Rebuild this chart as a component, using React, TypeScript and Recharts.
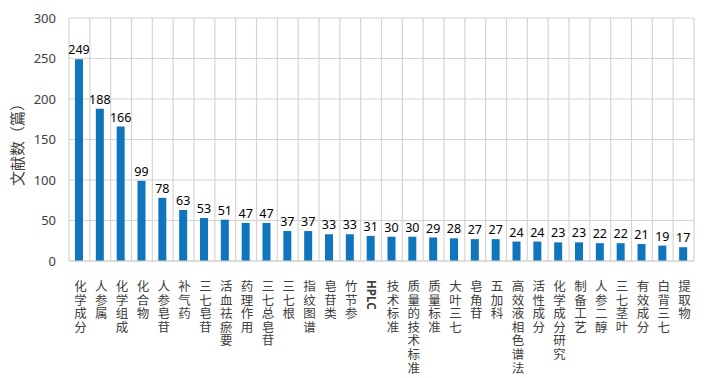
import { Bar, BarChart, CartesianGrid, LabelList, XAxis, YAxis } from 'recharts'

const categories = [
  '化学成分', '人参属', '化学组成', '化合物', '人参皂苷', '补气药', '三七皂苷', '活血祛瘀要',
  '药理作用', '三七总皂苷', '三七根', '指纹图谱', '皂苷类', '竹节参', 'HPLC', '技术标准',
  '质量的技术标准', '质量标准', '大叶三七', '皂角苷', '五加科', '高效液相色谱法', '活性成分',
  '化学成分研究', '制备工艺', '人参二醇', '三七茎叶', '有效成分', '白背三七', '提取物',
]
const counts = [
  249, 188, 166, 99, 78, 63, 53, 51, 47, 47, 37, 37, 33, 33, 31, 30, 30, 29, 28, 27, 27, 24, 24,
  23, 23, 22, 22, 21, 19, 17,
]
const yTicks = [0, 50, 100, 150, 200, 250, 300]

const data = categories.map((name, i) => ({ name, value: counts[i] }))

const FONT = '"Noto Sans", "Noto Sans CJK SC", sans-serif'
const GRID = '#D4D4D4'

function VerticalTick({ x, y, payload }: any) {
  const label: string = payload.value
  const latin = /^[A-Za-z]+$/.test(label)
  return (
    <text
      x={x}
      y={y + 11}
      style={{ writingMode: 'vertical-rl', letterSpacing: latin ? 0 : 1.1 }}
      fontSize={latin ? 11.5 : 12.5}
      fontWeight={latin ? 700 : 400}
      fill="#404040"
      fontFamily={FONT}
      textAnchor="start"
    >
      {label}
    </text>
  )
}

export default function App() {
  const n = categories.length
  return (
    <div style={{ position: 'absolute', left: 0, top: 0, background: '#fff' }}>
      <BarChart
        width={704}
        height={378}
        data={data}
        margin={{ top: 18, right: 10, bottom: 0, left: 0 }}
        barCategoryGap={0}
      >
        <CartesianGrid
          stroke={GRID}
          strokeWidth={1.2}
          horizontalCoordinatesGenerator={({ offset }: any) =>
            yTicks.map((t) => offset.top + ((300 - t) / 300) * offset.height)
          }
          verticalCoordinatesGenerator={({ offset }: any) =>
            Array.from({ length: n + 1 }, (_, i) => offset.left + (i * offset.width) / n)
          }
        />
        <XAxis
          dataKey="name"
          interval={0}
          tickLine={false}
          axisLine={{ stroke: GRID, strokeWidth: 1.2 }}
          tick={<VerticalTick />}
          height={117}
        />
        <YAxis
          width={69}
          domain={[0, 300]}
          ticks={yTicks}
          tickLine={false}
          axisLine={false}
          tickSize={0}
          tickMargin={13}
          tick={{ fontSize: 13, fill: '#404040', fontFamily: FONT }}
          label={{
            content: () => (
              <text
                x={19}
                y={141}
                transform="rotate(-90 19 141)"
                textAnchor="middle"
                dominantBaseline="middle"
                fontSize={15}
                fill="#404040"
                fontFamily={FONT}
              >
                文献数（篇）
              </text>
            ),
          }}
        />
        <Bar dataKey="value" fill="#0F75BC" barSize={8} isAnimationActive={false}>
          <LabelList
            dataKey="value"
            position="top"
            offset={5}
            fontSize={12.5}
            fill="#000"
            fontFamily={FONT}
          />
        </Bar>
      </BarChart>
    </div>
  )
}
